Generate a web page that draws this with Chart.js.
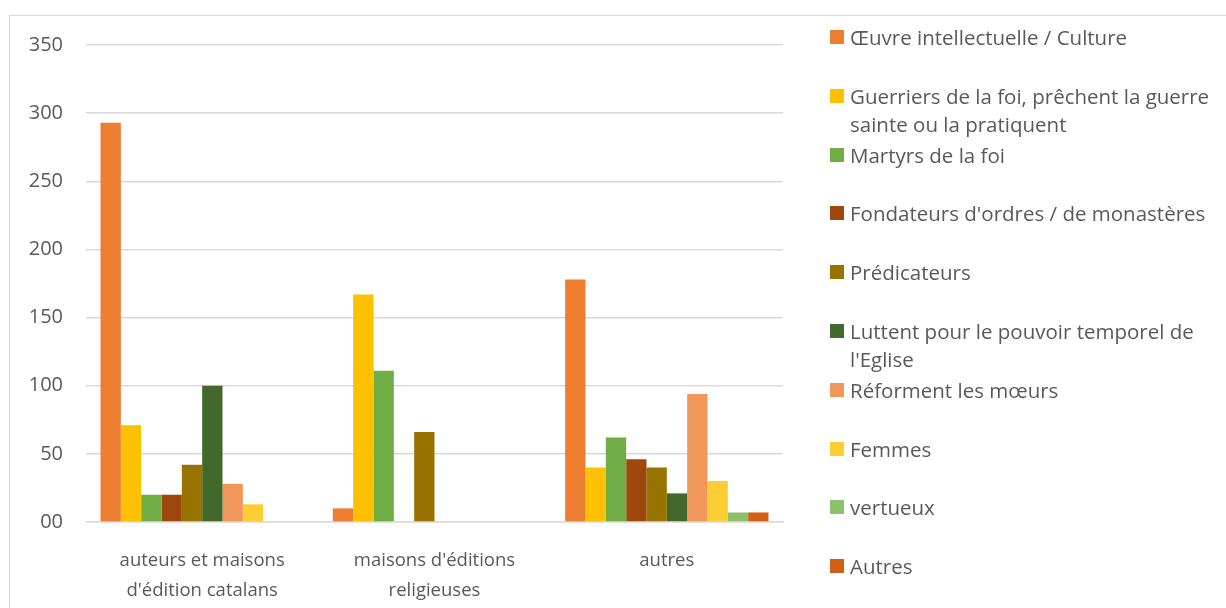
<!DOCTYPE html>
<html>
<head>
<meta charset="utf-8">
<script src="https://cdn.jsdelivr.net/npm/chart.js@4.4.0/dist/chart.umd.min.js"></script>
<style>
    body { margin: 0; width: 1226px; height: 608px; overflow: hidden; background: #fff; font-family: 'Open Sans', sans-serif; }
    #frame { position: absolute; left: 9px; top: 15px; width: 1400px; height: 800px; border: 1px solid #d9d9d9; }
    #usageChart { position: absolute; left: 0; top: 0; }
    #legend { position: absolute; left: 830px; top: 0; }
    .legend-item { position: absolute; left: 0; display: flex; align-items: flex-start; width: 398px; color: #595959; font-size: 20.5px; line-height: 28px; }
    .legend-item .swatch { width: 14px; height: 14px; margin-top: 7px; margin-right: 6px; flex: none; }
</style>
</head>
<body>
<div id="frame"></div>
<canvas id="usageChart" width="1226" height="608"></canvas>
<div id="legend"></div>
<script>
// categories along the x axis (split over two lines like the original)
const categories = [
    ['auteurs et maisons', "d'édition catalans"],
    ["maisons d'éditions", 'religieuses'],
    'autres'
];

const seriesNames = [
    'Œuvre intellectuelle / Culture',
    'Guerriers de la foi, prêchent la guerre sainte ou la pratiquent',
    'Martyrs de la foi',
    "Fondateurs d'ordres / de monastères",
    'Prédicateurs',
    "Luttent pour le pouvoir temporel de l'Eglise",
    'Réforment les mœurs',
    'Femmes',
    'vertueux',
    'Autres'
];

const seriesColors = ['#ED7D31', '#FFC000', '#70AD47', '#9E480E', '#997300', '#43682B', '#F1975A', '#FFCD33', '#8CC168', '#D26012'];

// one array per series: [catalans, religieuses, autres]
const oeuvre      = [293, 10, 178];
const guerriers   = [71, 167, 40];
const martyrs     = [20, 111, 62];
const fondateurs  = [20, 0, 46];
const predicateurs = [42, 66, 40];
const luttent     = [100, 0, 21];
const reforment   = [28, 0, 94];
const femmes      = [13, 0, 30];
const vertueux    = [0, 0, 7];
const autres      = [0, 0, 7];

const seriesValues = [oeuvre, guerriers, martyrs, fondateurs, predicateurs, luttent, reforment, femmes, vertueux, autres];

const yTicks = [0, 50, 100, 150, 200, 250, 300, 350];

const datasets = seriesNames.map((name, i) => ({
    label: name,
    data: seriesValues[i],
    backgroundColor: seriesColors[i],
    borderWidth: 0,
    categoryPercentage: 0.875,
    barPercentage: 1
}));

const ctx = document.getElementById('usageChart').getContext('2d');
new Chart(ctx, {
    type: 'bar',
    data: { labels: categories, datasets: datasets },
    options: {
        responsive: false,
        animation: false,
        devicePixelRatio: 1,
        layout: { padding: { top: 45, right: 443, bottom: 0, left: 0 } },
        plugins: { legend: { display: false }, tooltip: { enabled: false } },
        scales: {
            x: {
                grid: { display: false },
                border: { color: '#d9d9d9', width: 1.5 },
                ticks: {
                    color: '#595959',
                    font: { family: 'Open Sans', size: 18.5, lineHeight: 30 / 18.5 },
                    padding: 16,
                    maxRotation: 0,
                    autoSkip: false
                },
                afterFit: scale => { scale.height = 86; }
            },
            y: {
                min: 0,
                max: 350,
                afterBuildTicks: scale => { scale.ticks = yTicks.map(v => ({ value: v })); },
                grid: { color: '#d9d9d9', lineWidth: 1.5, drawTicks: false },
                border: { display: false },
                ticks: {
                    color: '#595959',
                    font: { family: 'Open Sans', size: 20 },
                    padding: 23,
                    callback: v => v === 0 ? '00' : v
                },
                afterFit: scale => { scale.width = 86; }
            }
        }
    }
});

// legend built from the series names and colours
document.getElementById('legend').innerHTML = seriesNames.map((name, i) => `
    <div class="legend-item" style="top: ${23 + i * 58.8}px">
        <span class="swatch" style="background: ${seriesColors[i]}"></span>
        <span>${name}</span>
    </div>
`).join('');
</script>
</body>
</html>
